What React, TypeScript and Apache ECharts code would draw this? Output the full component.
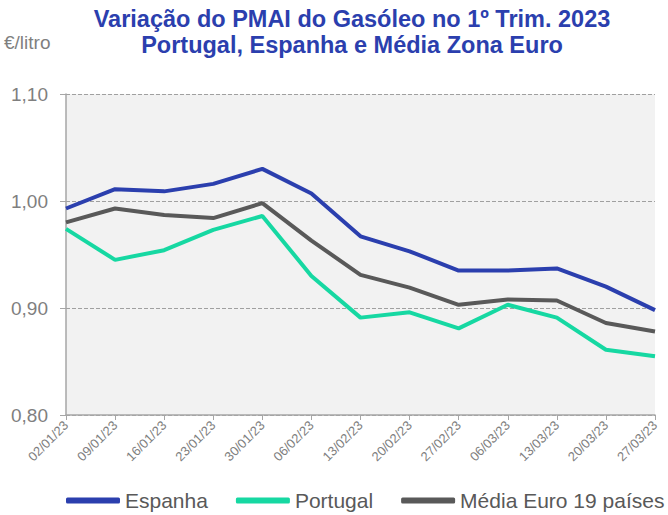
import React, { useEffect, useRef } from "react";
import * as echarts from "echarts";

const categories = ["02/01/23", "09/01/23", "16/01/23", "23/01/23", "30/01/23", "06/02/23", "13/02/23", "20/02/23", "27/02/23", "06/03/23", "13/03/23", "20/03/23", "27/03/23"];
const espanha = [0.993, 1.011, 1.009, 1.016, 1.03, 1.007, 0.967, 0.953, 0.935, 0.935, 0.937, 0.92, 0.898];
const portugal = [0.974, 0.945, 0.954, 0.973, 0.986, 0.93, 0.891, 0.896, 0.881, 0.903, 0.891, 0.861, 0.855];
const mediaEuro = [0.98, 0.993, 0.987, 0.984, 0.998, 0.963, 0.931, 0.919, 0.903, 0.908, 0.907, 0.886, 0.878];
const titleLines = ["Variação do PMAI do Gasóleo no 1º Trim. 2023", "Portugal, Espanha e Média Zona Euro"];
const unitLabel = "€/litro";

const BLUE = "#2B3FAE";
const GREEN = "#16D8A2";
const GRAY = "#595959";
const FONT = "'Liberation Sans', Arial, sans-serif";

export default function App() {
  const ref = useRef<HTMLDivElement>(null);
  useEffect(() => {
    document.body.style.margin = "0";
    if (!ref.current) return;
    const chart = echarts.init(ref.current, null, { renderer: "svg" });
    const line = (name: string, data: number[], color: string) => ({
      name,
      type: "line",
      data,
      symbol: "none",
      lineStyle: { color, width: 4 },
      itemStyle: { color },
    });
    chart.setOption({
      animation: false,
      textStyle: { fontFamily: FONT },
      graphic: [
        {
          type: "text",
          x: 352,
          y: 6,
          style: {
            text: titleLines.join("\n"),
            textAlign: "center",
            fill: BLUE,
            font: `bold 23.5px ${FONT}`,
            lineHeight: 26,
          },
        },
        {
          type: "text",
          x: 4,
          y: 33,
          style: { text: unitLabel, fill: "#7F7F7F", font: `19px ${FONT}` },
        },
      ],
      grid: {
        left: 66,
        right: 13,
        top: 94,
        bottom: 100,
        show: true,
        backgroundColor: "#F2F2F2",
        borderWidth: 0,
      },
      legend: {
        bottom: 4,
        left: 66,
        padding: 0,
        icon: "roundRect",
        itemWidth: 54,
        itemHeight: 6,
        itemGap: 28,
        textStyle: { fontSize: 21, color: GRAY, fontFamily: FONT },
        data: ["Espanha", "Portugal", "Média Euro 19 países"],
      },
      xAxis: {
        type: "category",
        data: categories,
        boundaryGap: false,
        axisLine: { lineStyle: { color: "#A6A6A6", width: 1.5 } },
        axisTick: { show: true, length: 5, lineStyle: { color: "#A6A6A6" } },
        axisLabel: { rotate: 45, color: "#7F7F7F", fontSize: 13, margin: 8, interval: 0 },
        splitLine: { show: false },
      },
      yAxis: {
        type: "value",
        min: 0.8,
        max: 1.1,
        interval: 0.1,
        axisLine: { show: true, lineStyle: { color: "#A6A6A6", width: 1.5 } },
        axisTick: { show: true, length: 6, lineStyle: { color: "#A6A6A6" } },
        axisLabel: {
          color: "#7F7F7F",
          fontSize: 19,
          margin: 18,
          formatter: (v: number) => v.toFixed(2).replace(".", ","),
        },
        splitLine: { show: true, lineStyle: { color: "#A0A0A0", type: [4, 2], width: 1 } },
      },
      series: [
        line("Espanha", espanha, BLUE),
        line("Portugal", portugal, GREEN),
        line("Média Euro 19 países", mediaEuro, GRAY),
      ],
    });
    return () => chart.dispose();
  }, []);
  return <div ref={ref} style={{ width: 668, height: 515 }} />;
}
